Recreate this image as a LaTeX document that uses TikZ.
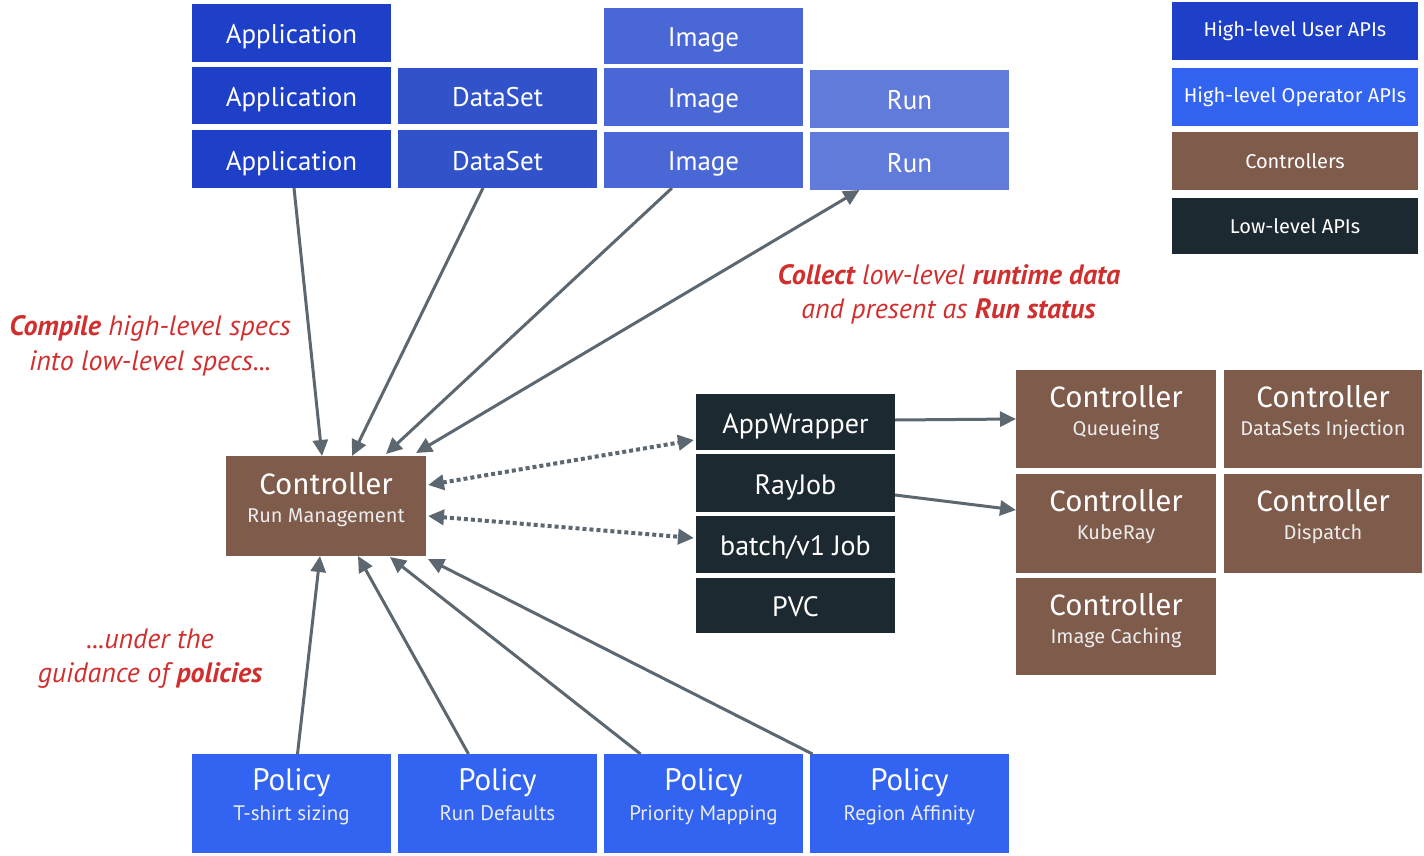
\documentclass[tikz,border=0pt]{standalone}
\usepackage{fontspec}
\setmainfont{Fira Sans}
\newfontfamily\cond{PT Sans}
\usetikzlibrary{arrows.meta}
\definecolor{cApp}{HTML}{1E40C8}
\definecolor{cDS}{HTML}{3152C9}
\definecolor{cImg}{HTML}{4A67D6}
\definecolor{cRun}{HTML}{607BDA}
\definecolor{cPol}{HTML}{3264F1}
\definecolor{cBrown}{HTML}{7F5B4B}
\definecolor{cDark}{HTML}{1D2931}
\definecolor{cGray}{HTML}{5C6770}
\definecolor{cRed}{HTML}{D12E2E}
\begin{document}
\begin{tikzpicture}[x=1pt,y=-1pt,
  blk/.style={rectangle, inner sep=0pt, outer sep=0pt, text=white, minimum width=199pt},
  tbox/.style={blk, text height=22pt, text depth=0pt, font=\cond\fontsize{27}{30}\selectfont},
  lowbox/.style={blk, fill=cDark, text height=22pt, text depth=0pt, font=\cond\fontsize{28}{30}\selectfont},
  lbox/.style={blk, minimum width=246pt, font=\fontsize{20}{24}\selectfont},
  cbox/.style={blk, fill=cBrown, minimum width=200pt},
  pbox/.style={blk, fill=cPol, minimum height=99pt},
  cttl/.style={inner sep=0pt, text=white, font=\fontsize{29.5}{32}\selectfont},
  csub/.style={inner sep=0pt, text height=15pt, text depth=4pt, text=white!92!black, font=\fontsize{20}{24}\selectfont},
  pttl/.style={inner sep=0pt, text=white, font=\cond\fontsize{31}{34}\selectfont},
  psub/.style={inner sep=0pt, text height=15pt, text depth=4pt, text=white!92!black, font=\cond\fontsize{21}{24}\selectfont},
  note/.style={inner sep=0pt, text=cRed, font=\cond\itshape\fontsize{28}{32}\selectfont},
  arr/.style={draw=cGray, line width=3pt, -{Triangle[length=16pt,width=15pt]}},
  barr/.style={draw=cGray, line width=3pt, {Triangle[length=16pt,width=15pt]}-{Triangle[length=16pt,width=15pt]}},
  dotarr/.style={draw=cGray, line width=4pt, dash pattern=on 4pt off 3pt, {Triangle[length=16pt,width=15pt]}-{Triangle[length=16pt,width=15pt]}}
]
\useasboundingbox (0,0) rectangle (1424,856);

% top row: high-level user APIs
\node[tbox, fill=cApp, minimum height=58pt] (a1) at (291.5,33) {Application};
\node[tbox, fill=cApp, minimum height=57pt] (a2) at (291.5,95.5) {Application};
\node[tbox, fill=cApp, minimum height=58pt] (a3) at (291.5,159) {Application};
\node[tbox, fill=cDS, minimum height=56pt] (d1) at (497.5,96) {DataSet};
\node[tbox, fill=cDS, minimum height=58pt] (d2) at (497.5,159) {DataSet};
\node[tbox, fill=cImg, minimum height=56pt] (i1) at (703.5,36) {Image};
\node[tbox, fill=cImg, minimum height=58pt] (i2) at (703.5,97) {Image};
\node[tbox, fill=cImg, minimum height=56pt] (i3) at (703.5,160) {Image};
\node[tbox, fill=cRun, minimum height=58pt] (r1) at (909.5,99) {Run};
\node[tbox, fill=cRun, minimum height=58pt] (r2) at (909.5,161) {Run};

% legend
\node[lbox, fill=cApp, minimum height=58pt] (l1) at (1295,31) {High-level User APIs};
\node[lbox, fill=cPol, minimum height=58pt] (l2) at (1295,97) {High-level Operator APIs};
\node[lbox, fill=cBrown, minimum height=58pt] (l3) at (1295,161) {Controllers};
\node[lbox, fill=cDark, minimum height=56pt] (l4) at (1295,226) {Low-level APIs};

% run management controller
\node[cbox, minimum height=100pt] (rm) at (326,506) {};
\node[cttl] (rmT) at ([yshift=-28pt]rm.north) {Controller};
\node[csub] (rmS) at ([yshift=-61pt]rm.north) {Run Management};

% low-level APIs
\node[lowbox, minimum height=56pt] (aw) at (795.5,422) {AppWrapper};
\node[lowbox, minimum height=58pt] (rj) at (795.5,483) {RayJob};
\node[lowbox, minimum height=57pt] (bj) at (795.5,544.5) {batch/v1 Job};
\node[lowbox, minimum height=55pt] (pvc) at (795.5,605.5) {PVC};

% right controllers
\node[cbox, minimum height=98pt] (cq) at (1116,419) {};
\node[cttl] (cqT) at ([yshift=-27pt]cq.north) {Controller};
\node[csub] (cqS) at ([yshift=-60pt]cq.north) {Queueing};
\node[cbox, minimum width=198pt, minimum height=98pt] (cd) at (1323,419) {};
\node[cttl] (cdT) at ([yshift=-27pt]cd.north) {Controller};
\node[csub] (cdS) at ([yshift=-60pt]cd.north) {DataSets Injection};
\node[cbox, minimum height=99pt] (ck) at (1116,523.5) {};
\node[cttl] (ckT) at ([yshift=-27pt]ck.north) {Controller};
\node[csub] (ckS) at ([yshift=-60pt]ck.north) {KubeRay};
\node[cbox, minimum width=198pt, minimum height=99pt] (cp) at (1323,523.5) {};
\node[cttl] (cpT) at ([yshift=-27pt]cp.north) {Controller};
\node[csub] (cpS) at ([yshift=-60pt]cp.north) {Dispatch};
\node[cbox, minimum height=97pt] (ci) at (1116,626.5) {};
\node[cttl] (ciT) at ([yshift=-27pt]ci.north) {Controller};
\node[csub] (ciS) at ([yshift=-60pt]ci.north) {Image Caching};

% policies
\node[pbox] (p1) at (291.5,803.5) {};
\node[pttl] (p1T) at ([yshift=-29pt]p1.north) {Policy};
\node[psub] (p1S) at ([yshift=-61pt]p1.north) {T-shirt sizing};
\node[pbox] (p2) at (497.5,803.5) {};
\node[pttl] (p2T) at ([yshift=-29pt]p2.north) {Policy};
\node[psub] (p2S) at ([yshift=-61pt]p2.north) {Run Defaults};
\node[pbox] (p3) at (703.5,803.5) {};
\node[pttl] (p3T) at ([yshift=-29pt]p3.north) {Policy};
\node[psub] (p3S) at ([yshift=-61pt]p3.north) {Priority Mapping};
\node[pbox] (p4) at (909.5,803.5) {};
\node[pttl] (p4T) at ([yshift=-29pt]p4.north) {Policy};
\node[psub] (p4S) at ([yshift=-61pt]p4.north) {Region Affinity};

% notes
\node[note] (n1) at (150,328) {\textbf{Compile} high-level specs};
\node[note] (n2) at (150,363) {into low-level specs...};
\node[note] (n3) at (150,639) {...under the};
\node[note] (n4) at (150,675) {guidance of \textbf{policies}};
\node[note] (n5) at (949,275) {\textbf{Collect} low-level \textbf{runtime data}};
\node[note] (n6) at (948.5,311) {and present as \textbf{Run status}};

% arrows from top
\draw[arr] ([xshift=2.5pt]a3.south) -- ([xshift=-4pt]rm.north);
\draw[arr] ([xshift=-14.5pt]d2.south) -- ([xshift=26pt]rm.north);
\draw[arr] ([xshift=-31.5pt]i3.south) -- ([xshift=60pt,yshift=2pt]rm.north);
\draw[barr] ([xshift=90pt,yshift=3pt]rm.north) -- ([xshift=-50pt]r2.south);

% arrows from policies
\draw[arr] ([xshift=6pt]p1.north) -- ([xshift=-6pt]rm.south);
\draw[arr] ([xshift=-29pt]p2.north) -- ([xshift=32pt]rm.south);
\draw[arr] ([xshift=-63pt]p3.north) -- ([xshift=64pt,yshift=-1pt]rm.south);
\draw[arr] ([xshift=-97pt]p4.north) -- ([xshift=2pt,yshift=-3pt]rm.south east);

% dotted
\draw[dotarr] ([xshift=2pt,yshift=21pt]rm.east) -- ([xshift=-2pt,yshift=-18pt]aw.west);
\draw[dotarr] ([xshift=2pt,yshift=-10pt]rm.east) -- ([xshift=-2pt,yshift=6.5pt]bj.west);

% to controllers
\draw[arr] ([yshift=2pt]aw.east) -- ([yshift=0pt]cq.west);
\draw[arr] ([yshift=-12pt]rj.east) -- ([yshift=13.5pt]ck.west);
\end{tikzpicture}
\end{document}
